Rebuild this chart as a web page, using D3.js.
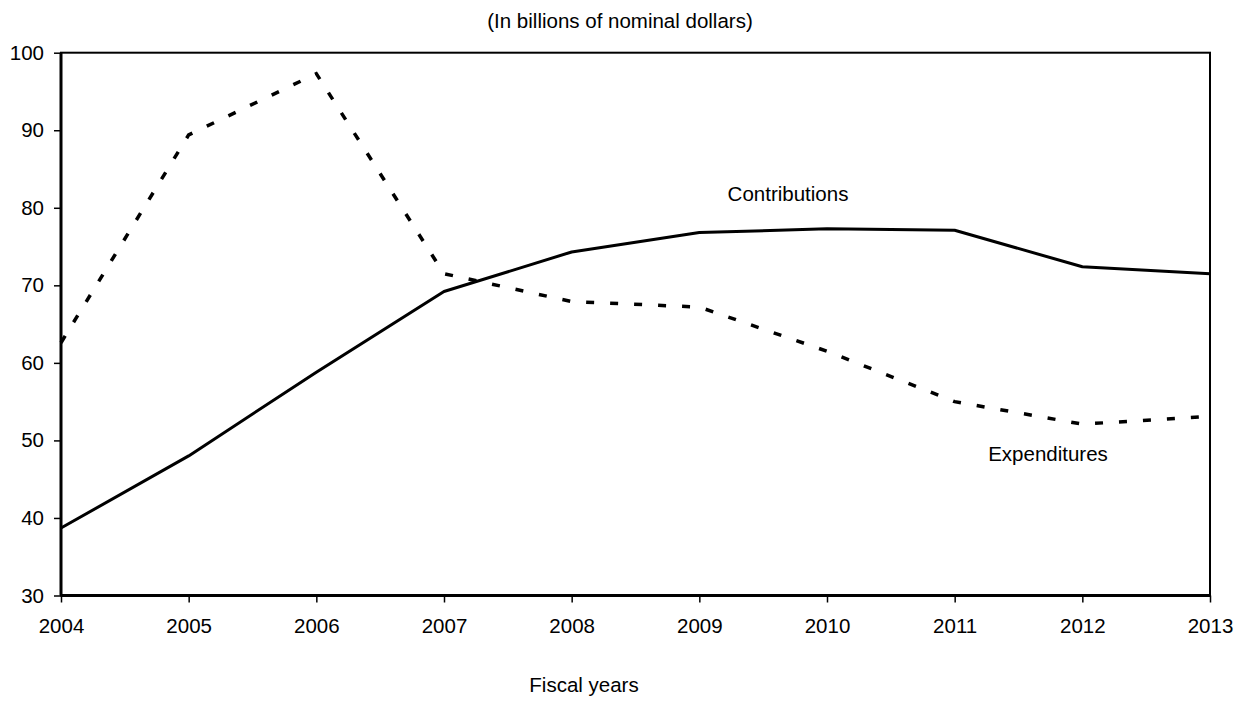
<!DOCTYPE html>
<html><head><meta charset="utf-8">
<script src="https://cdn.jsdelivr.net/npm/d3@7"></script>
<style>body{margin:0;background:#fff}svg{display:block}text{font-family:"Liberation Sans",Arial,sans-serif;fill:#000}</style>
</head><body><svg id="c" width="1243" height="702"></svg>
<script>
const years = [2004,2005,2006,2007,2008,2009,2010,2011,2012,2013];
const contributions = [38.7,48.0,58.8,69.2,74.3,76.8,77.3,77.1,72.4,71.5];
const expenditures  = [62.6,89.4,97.3,71.5,67.9,67.2,61.5,55.0,52.1,53.1];
const yTicks = [30,40,50,60,70,80,90,100];
const subtitle = "(In billions of nominal dollars)";
const xTitle = "Fiscal years";

const FS = 20.5;
const svg = d3.select("#c");
const L=61, R=1210, T=52.7, B=595.5;
const x = d3.scaleLinear().domain([2004,2013]).range([L,R]);
const y = d3.scaleLinear().domain([30,100]).range([B,T]);

// frame (top/right)
svg.append("rect").attr("x",L).attr("y",T).attr("width",R-L).attr("height",B-T)
  .attr("fill","none").attr("stroke","#000").attr("stroke-width",2);

const yAxis = svg.append("g").attr("transform",`translate(${L},0)`)
  .call(d3.axisLeft(y).tickValues(yTicks).tickSize(7).tickPadding(10).tickFormat(d3.format("d")));
const xAxis = svg.append("g").attr("transform",`translate(0,${B})`)
  .call(d3.axisBottom(x).tickValues(years).tickSize(7).tickPadding(16).tickFormat(d3.format("d")));
[yAxis,xAxis].forEach(g=>{
  g.select(".domain").attr("stroke","#000").attr("stroke-width",3);
  g.selectAll(".tick line").attr("stroke","#000").attr("stroke-width",1.5);
  g.selectAll("text").attr("font-size",FS).attr("font-family","Liberation Sans, Arial, sans-serif").attr("fill","#000");
});
yAxis.select(".domain").attr("d",`M0,${B}V${T}`);
xAxis.select(".domain").attr("d",`M${L},0H${R}`);

const line = d3.line().x((d,i)=>x(years[i])).y(d=>y(d));
svg.append("path").datum(expenditures).attr("d",line).attr("fill","none")
  .attr("stroke","#000").attr("stroke-width",3.5).attr("stroke-dasharray","8,16");
svg.append("path").datum(contributions).attr("d",line).attr("fill","none")
  .attr("stroke","#000").attr("stroke-width",3).attr("stroke-linejoin","round");

svg.append("text").attr("x",788).attr("y",201).attr("text-anchor","middle").attr("font-size",FS).text("Contributions");
svg.append("text").attr("x",1048).attr("y",461).attr("text-anchor","middle").attr("font-size",FS).text("Expenditures");
svg.append("text").attr("x",620).attr("y",28).attr("text-anchor","middle").attr("font-size",FS).text(subtitle);
svg.append("text").attr("x",584).attr("y",692).attr("text-anchor","middle").attr("font-size",FS).text(xTitle);
</script></body></html>
